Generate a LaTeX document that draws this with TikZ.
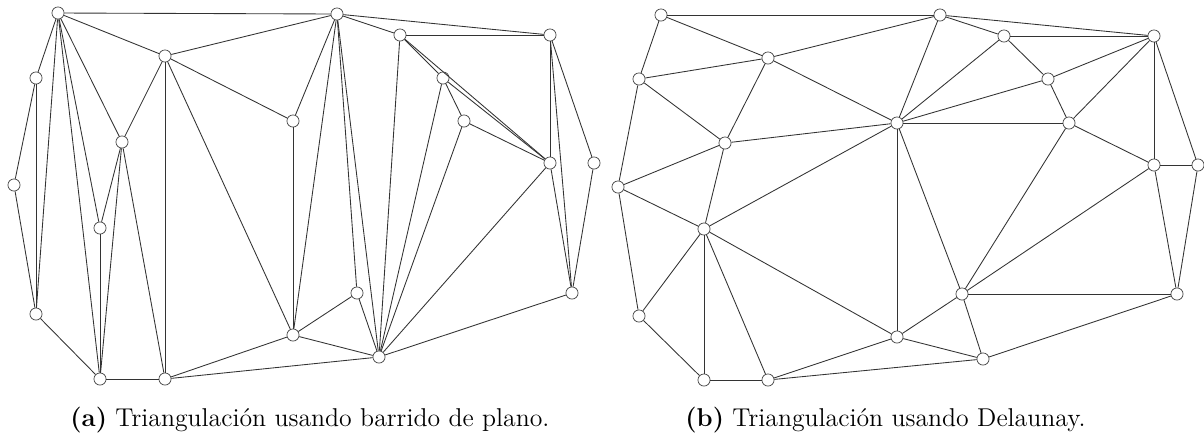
\documentclass[tikz,border=0pt]{standalone}
\tikzset{
  pt/.style={circle,draw=black!70,fill=white,line width=0.4pt,minimum size=6.3pt,inner sep=0pt},
  edge/.style={draw=black!80,line width=0.45pt},
  captext/.style={anchor=base west,inner sep=0pt,font=\fontsize{13.4}{16}\selectfont}
}
\begin{document}
\begin{tikzpicture}[x=0.52pt,y=-0.52pt]
\useasboundingbox (0,0) rectangle (1204,441);
% left points
\foreach \n/\x/\y in {1/58/13,2/337/14,3/165/56,4/400/35,5/550/35,6/36/78,7/443/78,8/293/121,9/122/142,10/464/121,11/550/163,12/594/163,13/14/185,14/100/228,15/36/314,16/357/293,17/293/335,18/572/293,19/379/357,20/100/379,21/165/379}
  \node[pt] (a\n) at (\x,\y) {};
% right points
\foreach \n/\x/\y in {1/661/15,2/940/15,3/768/58,4/1004/36,5/1154/36,6/639/79,7/1048/79,8/897/123,9/725/143,10/1069/123,11/1154/165,12/1198/165,13/618/187,14/704/229,15/639/316,16/962/294,17/897/337,18/1177/294,19/983/359,20/704/380,21/768/380}
  \node[pt] (b\n) at (\x,\y) {};
% left edges
\foreach \u/\v in {1/2,1/3,1/6,1/9,1/14,1/15,1/20,
  2/3,2/4,2/5,2/8,2/16,2/17,2/19,
  3/8,3/9,3/17,3/21,
  4/5,4/7,4/11,4/19,
  5/11,5/12,5/18,
  6/13,6/15,
  7/10,7/11,7/19,
  8/17,
  9/14,9/20,9/21,
  10/11,10/19,
  11/18,11/19,
  12/18,13/15,14/20,15/20,
  16/17,16/19,
  17/19,17/21,
  18/19,19/21,20/21}
  \draw[edge] (a\u) -- (a\v);
% right edges
\foreach \u/\v in {1/2,1/3,1/6,
  2/3,2/4,2/5,2/8,
  3/6,3/8,3/9,
  4/5,4/7,4/8,
  5/7,5/10,5/11,5/12,
  6/9,6/13,
  7/8,7/10,
  8/9,8/10,8/14,8/16,8/17,
  9/13,9/14,
  10/11,10/16,
  11/12,11/16,11/18,
  12/18,
  13/14,13/15,
  14/15,14/17,14/20,14/21,
  15/20,
  16/17,16/18,16/19,
  17/19,17/21,
  18/19,19/21,20/21}
  \draw[edge] (b\u) -- (b\v);
% captions
\node[captext] (capa) at (70,426) {\textbf{(a)} Triangulación usando barrido de plano.};
\node[captext] (capb) at (685,426) {\textbf{(b)} Triangulación usando Delaunay.};
\end{tikzpicture}
\end{document}
